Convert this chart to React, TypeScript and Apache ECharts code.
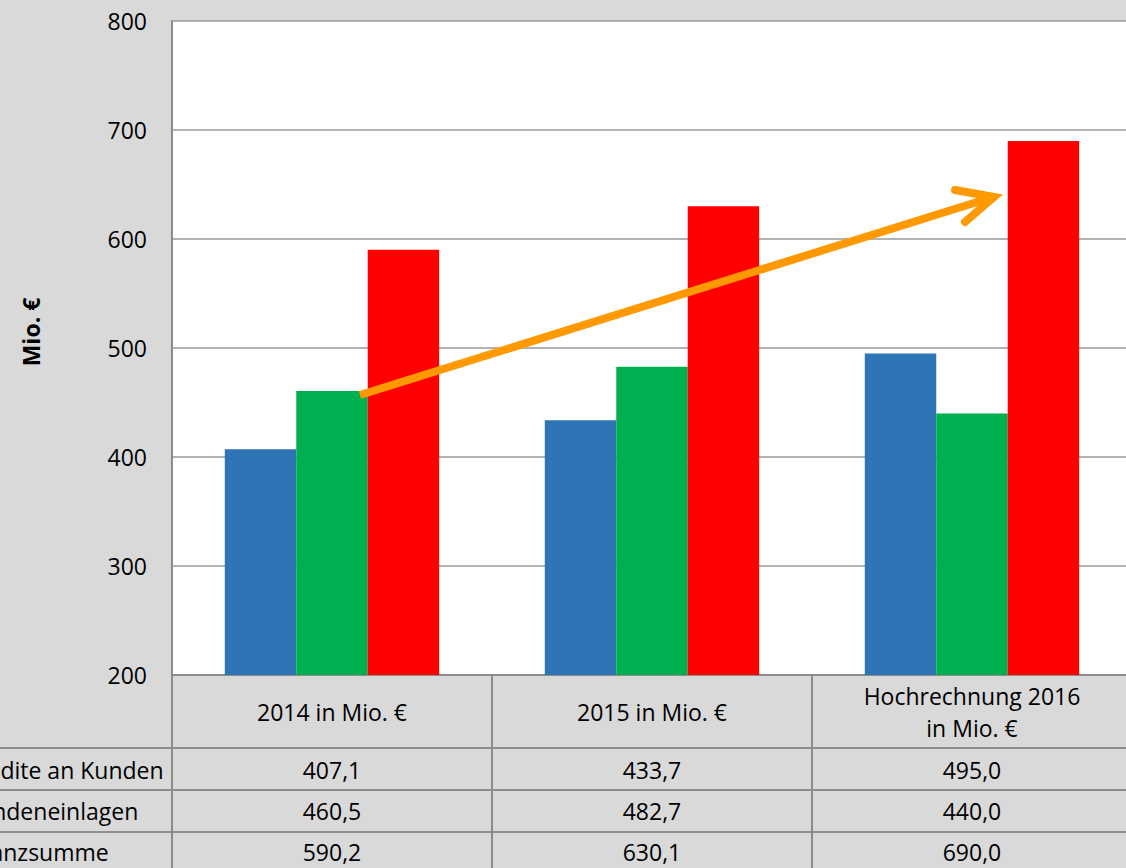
import React, { useEffect, useRef } from "react";
import * as echarts from "echarts";

const categories = ["2014 in Mio. €", "2015 in Mio. €", "Hochrechnung 2016\nin Mio. €"];
const seriesNames = ["Kredite an Kunden", "Kundeneinlagen", "Bilanzsumme"];
const kredite = [407.1, 433.7, 495.0];
const einlagen = [460.5, 482.7, 440.0];
const bilanz = [590.2, 630.1, 690.0];
const seriesColors = ["#2e75b6", "#00b050", "#ff0000"];
const yTicks = { min: 200, max: 800, interval: 100 };
const yTitle = "Mio. €";

const FONT = "'Open Sans', sans-serif";
const W = 1132; // chart canvas slightly wider than the window: last column is cut off
const H = 868;
const GRID = { left: 172, right: 0, top: 21, bottom: 193 };

export default function App() {
  const ref = useRef<HTMLDivElement>(null);
  useEffect(() => {
    if (!ref.current) return;
    const chart = echarts.init(ref.current, null, { renderer: "svg" });
    const allSeries = [kredite, einlagen, bilanz];
    const plotW = W - GRID.left - GRID.right;
    const colW = plotW / categories.length;
    const rowLines = [748, 790, 832];
    const rowCenters = [770, 811, 852];
    const lineStyle = { stroke: "#8c8c8c", lineWidth: 2 };

    const graphics: any[] = [];
    graphics.push({
      type: "text",
      x: 31,
      y: 332,
      rotation: Math.PI / 2,
      style: { text: yTitle, fill: "#000", font: `bold 23px ${FONT}`, textAlign: "center", textVerticalAlign: "middle" },
      z: 6,
    });
    rowLines.forEach((y) => {
      graphics.push({ type: "line", shape: { x1: 0, y1: y, x2: W, y2: y }, style: lineStyle, z: 5 });
    });
    seriesNames.forEach((name, r) => {
      graphics.push({
        type: "text",
        x: -36,
        y: rowCenters[r],
        style: { text: name, fill: "#000", font: `23px ${FONT}`, textAlign: "left", textVerticalAlign: "middle" },
        z: 6,
      });
      allSeries[r].forEach((v, c) => {
        graphics.push({
          type: "text",
          x: GRID.left + colW * (c + 0.5),
          y: rowCenters[r],
          style: { text: v.toFixed(1).replace(".", ","), fill: "#000", font: `23px ${FONT}`, textAlign: "center", textVerticalAlign: "middle" },
          z: 6,
        });
      });
    });
    // orange trend arrow
    const arrow = { stroke: "#ff9900", lineWidth: 8 };
    graphics.push({ type: "line", shape: { x1: 360, y1: 395, x2: 990, y2: 198 }, style: { ...arrow, lineCap: "butt" }, z: 10 });
    graphics.push({
      type: "polyline",
      shape: { points: [[955, 190], [994, 197], [965, 222]] },
      style: { ...arrow, lineCap: "round", lineJoin: "miter", fill: null },
      z: 10,
    });

    chart.setOption({
      animation: false,
      backgroundColor: "#d9d9d9",
      textStyle: { fontFamily: FONT },
      grid: { ...GRID, show: true, backgroundColor: "#ffffff", borderWidth: 0 },
      xAxis: {
        type: "category",
        data: categories,
        axisLine: { show: true, lineStyle: { color: "#8c8c8c", width: 2 } },
        axisTick: { show: true, interval: 0, length: 193, lineStyle: { color: "#8c8c8c", width: 2 } },
        axisLabel: { interval: 0, margin: 37, verticalAlign: "middle", fontSize: 23, lineHeight: 32, color: "#000", fontFamily: FONT },
        splitLine: { show: false },
      },
      yAxis: {
        type: "value",
        min: yTicks.min,
        max: yTicks.max,
        interval: yTicks.interval,
        axisLine: { show: true, lineStyle: { color: "#8c8c8c", width: 2 } },
        axisTick: { show: false },
        axisLabel: { margin: 25, fontSize: 23, color: "#000", fontFamily: FONT },
        splitLine: { show: true, lineStyle: { color: "#9a9a9a", width: 1.5 } },
      },
      series: allSeries.map((data, i) => ({
        type: "bar",
        name: seriesNames[i],
        data,
        barGap: "0%",
        barCategoryGap: "33%",
        itemStyle: { color: seriesColors[i] },
      })),
      graphic: graphics,
    });
    return () => chart.dispose();
  }, []);
  return <div ref={ref} style={{ position: "fixed", left: 0, top: 0, width: W, height: H }} />;
}
